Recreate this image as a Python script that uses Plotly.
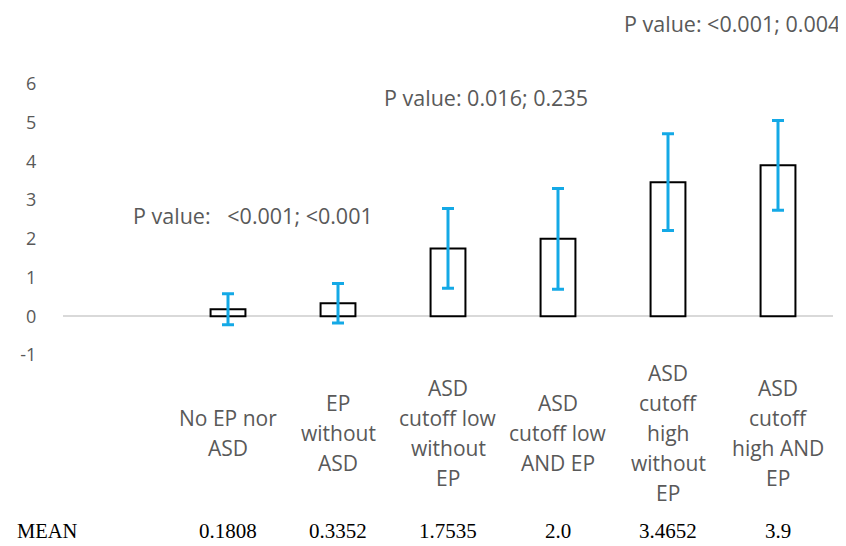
import plotly.graph_objects as go

# ---- data ----
categories = [
    "No EP nor\nASD",
    "EP\nwithout\nASD",
    "ASD\ncutoff low\nwithout\nEP",
    "ASD\ncutoff low\nAND EP",
    "ASD\ncutoff\nhigh\nwithout\nEP",
    "ASD\ncutoff\nhigh AND\nEP",
]
means = [0.1808, 0.3352, 1.7535, 2.0, 3.4652, 3.9]
errors = [0.40, 0.51, 1.03, 1.30, 1.25, 1.16]
mean_labels = ["0.1808", "0.3352", "1.7535", "2.0", "3.4652", "3.9"]
p_texts = [
    "P value:   &lt;0.001; &lt;0.001",
    "P value: 0.016; 0.235",
    "P value: &lt;0.001; 0.004",
]
y_ticks = [-1, 0, 1, 2, 3, 4, 5, 6]
y_tick_text = ["-1", "0", "1", "2", "3", "4", "5", "6"]

# ---- layout constants (page body has an 8px margin) ----
OFF = 8
W, H = 846 - OFF, 546 - OFF
L, T = 60 - OFF, 84 - OFF
R = W - (833 - OFF)
B = H - (355 - OFF)
PW, PH = W - L - R, H - T - B
GRAY = "#595959"
SANS = "Open Sans"


def px_x(x):
    return (x - OFF - L) / PW


def px_y(y):
    return (H - B - (y - OFF)) / PH


fig = go.Figure()
fig.add_trace(go.Bar(
    x=categories,
    y=means,
    marker=dict(color="white", line=dict(color="black", width=2)),
    error_y=dict(type="data", array=errors, color="#14A9E6", thickness=3, width=6),
    showlegend=False,
))

annotations = []
# category labels (vertically centred, multi-line)
line_h = 30
for cat in categories:
    lines = cat.split("\n")
    n = len(lines)
    for i, ln in enumerate(lines):
        annotations.append(dict(
            x=cat, xref="x", y=px_y(433), yref="paper",
            text=ln, showarrow=False, xanchor="center", yanchor="middle",
            yshift=-(i - (n - 1) / 2) * line_h,
            font=dict(family=SANS, size=21, color=GRAY),
        ))
# MEAN row
MEAN_Y = 531
annotations.append(dict(
    x=px_x(12), xref="paper", y=px_y(MEAN_Y), yref="paper", text="MEAN",
    showarrow=False, xanchor="left", yanchor="middle",
    font=dict(family="Liberation Serif", size=20.5, color="black"),
))
for cat, ml in zip(categories, mean_labels):
    annotations.append(dict(
        x=cat, xref="x", y=px_y(MEAN_Y), yref="paper", text=ml,
        showarrow=False, xanchor="center", yanchor="middle",
        font=dict(family="Liberation Serif", size=21, color="black"),
    ))
# P value texts
p_pos = [(128, 215, "left"), (380, 98, "left"), (842, 24, "right")]
for txt, (px, py, anc) in zip(p_texts, p_pos):
    annotations.append(dict(
        x=px_x(px), xref="paper", y=px_y(py), yref="paper", text=txt,
        showarrow=False, xanchor=anc, yanchor="middle",
        font=dict(family=SANS, size=21.5, color=GRAY),
    ))

fig.update_layout(
    width=W, height=H,
    margin=dict(l=L, r=R, t=T, b=B),
    paper_bgcolor="white", plot_bgcolor="white",
    bargap=0.683,
    xaxis=dict(
        type="category", range=[-1.5, 5.5], showticklabels=False,
        showgrid=False, showline=False, ticks="",
    ),
    yaxis=dict(
        range=[-1, 6], tickvals=y_ticks, ticktext=y_tick_text,
        showgrid=False, showline=False,
        zeroline=True, zerolinecolor="#D9D9D9", zerolinewidth=2,
        tickfont=dict(family=SANS, size=18, color=GRAY),
        ticks="outside", ticklen=22, tickcolor="rgba(0,0,0,0)",
    ),
    annotations=annotations,
)

fig.write_html("out.html")
